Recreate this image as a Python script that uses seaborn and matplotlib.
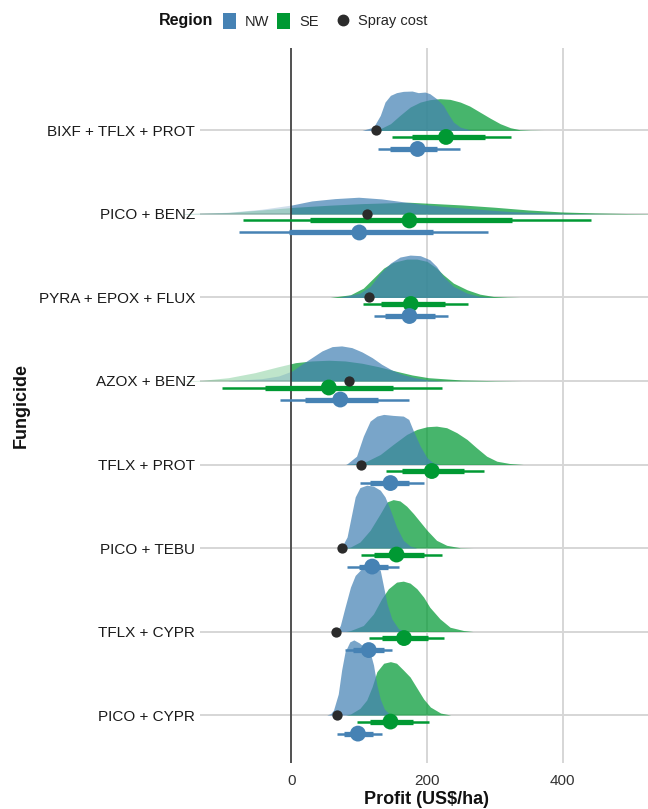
import matplotlib
matplotlib.use("Agg")
import matplotlib.pyplot as plt
import seaborn as sns
import pandas as pd
from matplotlib.patches import Patch, Rectangle
from matplotlib.lines import Line2D

# ---------------- data ----------------
FUNGICIDES = ["BIXF + TFLX + PROT", "PICO + BENZ", "PYRA + EPOX + FLUX", "AZOX + BENZ",
              "TFLX + PROT", "PICO + TEBU", "TFLX + CYPR", "PICO + CYPR"]
REGIONS = ["NW", "SE"]
X_TICKS = [0, 200, 400]

SPRAY_COST = [124, 112, 115, 85, 103, 74, 66, 67]

NW_MEDIAN = [186, 100, 174, 72, 146, 119, 114, 98]
NW_Q66 = [(146, 214), (-4, 209), (138, 212), (20, 128), (116, 173), (99, 143), (91, 136), (78, 120)]
NW_Q95 = [(128, 248), (-77, 290), (121, 231), (-17, 173), (101, 196), (82, 159), (79, 148), (67, 134)]

SE_MEDIAN = [228, 174, 176, 55, 207, 155, 166, 146]
SE_Q66 = [(178, 286), (28, 326), (132, 227), (-39, 150), (163, 254), (121, 195), (133, 202), (116, 179)]
SE_Q95 = [(148, 324), (-71, 442), (105, 261), (-103, 222), (140, 284), (103, 222), (115, 225), (96, 203)]

# posterior density (profit, relative density)
NW_DENSITY = [
    [(104, 0), (121, 3.3), (131, 15), (138, 28.3), (146, 35), (155, 37.7), (165, 39), (178, 39.3),
     (187, 37.7), (197, 38.3), (204, 36.7), (214, 31.7), (224, 25), (231, 16.7), (239, 8.3),
     (249, 3.3), (263, 0.7), (273, 0)],
    [(-160, 0.3), (-137, 0.7), (-93, 1.7), (-44, 4.7), (1, 9), (30, 13), (64, 15.3), (99, 16.7),
     (133, 15), (163, 12.3), (192, 9.7), (227, 7.3), (276, 4.7), (325, 2.3), (374, 1), (423, 0.3),
     (470, 0)],
    [(72, 0.3), (101, 4.3), (116, 11), (131, 24.3), (146, 34.3), (160, 40.3), (175, 42.3),
     (190, 41.7), (204, 37.7), (214, 31), (224, 21), (239, 11), (259, 4.3), (278, 1), (298, 0)],
    [(-93, 0.3), (-44, 2.3), (-19, 5), (1, 10), (15, 16.7), (30, 23.3), (45, 30), (60, 34.3),
     (74, 35), (89, 33.3), (104, 29), (119, 23.3), (133, 16.7), (148, 11), (163, 6.7), (182, 3.3),
     (202, 1), (227, 0)],
    [(80, 0), (82, 0.7), (96, 8.3), (106, 28.3), (116, 43.3), (126, 48.3), (136, 50), (150, 49),
     (165, 48.3), (173, 45), (180, 33.3), (190, 18.3), (200, 6.7), (209, 1.7), (219, 0)],
    [(72, 0), (74, 1), (82, 11), (89, 34.3), (94, 51), (101, 60.3), (111, 62.7), (121, 61.7),
     (131, 57.7), (138, 51), (146, 37.7), (155, 21), (165, 7.7), (175, 2), (185, 0)],
    [(67, 0), (72, 6), (79, 24.3), (87, 44.3), (94, 56), (104, 63), (116, 66), (126, 65),
     (131, 61), (136, 44.3), (141, 27.7), (148, 12.7), (158, 2.7), (170, 0)],
    [(52, 0), (58, 1.5), (62, 5), (69, 21), (74, 45), (79, 63), (86, 73), (92, 75), (100, 72),
     (110, 66), (117, 60), (121, 50), (126, 30), (131, 16), (137, 6), (143, 2), (150, 0)],
]
SE_DENSITY = [
    [(121, 0), (131, 1.7), (146, 6.7), (160, 15), (175, 23.3), (190, 28.3), (204, 30.7),
     (219, 31.7), (234, 31), (249, 28.3), (263, 24.3), (278, 18.3), (293, 12.3), (308, 6.7),
     (323, 2.7), (337, 0.7), (352, 0.2), (372, 0)],
    [(-160, 0.3), (-93, 1.5), (-44, 4), (6, 6.7), (55, 8.7), (104, 10.3), (173, 11.7), (202, 10.7),
     (251, 9), (300, 6.7), (349, 4), (399, 2), (448, 1), (497, 0.4), (560, 0)],
    [(57, 0), (87, 2.7), (106, 9.3), (121, 19.3), (136, 29.3), (150, 35), (170, 38.3), (185, 38.3),
     (200, 36), (214, 29.3), (224, 22.7), (239, 14.3), (259, 7.7), (278, 3.3), (298, 1),
     (318, 0.3), (337, 0)],
    [(-160, 0.2), (-132, 0.7), (-93, 3.3), (-54, 8.3), (-19, 14.3), (6, 18.3), (30, 20), (55, 20.7),
     (79, 20), (104, 17.7), (128, 14.3), (153, 10), (178, 6), (202, 3.3), (251, 1), (300, 0.3),
     (340, 0)],
    [(80, 0), (91, 0.7), (111, 3.3), (131, 10), (150, 20), (170, 30), (185, 35), (200, 37.7),
     (214, 38.3), (229, 36.7), (244, 31.7), (259, 25), (273, 16.7), (288, 8.3), (303, 3.3),
     (322, 1), (342, 0)],
    [(80, 0), (87, 1), (101, 6), (116, 17.7), (131, 34.3), (141, 46), (150, 48.3), (160, 47),
     (170, 41.7), (180, 34.3), (190, 26), (200, 17.7), (214, 7.7), (229, 2.7), (249, 0.3), (268, 0)],
    [(80, 0), (87, 1), (106, 6), (121, 17.7), (133, 32.7), (143, 42.7), (155, 49.3), (165, 50.3),
     (175, 48.3), (185, 42.7), (195, 34.3), (204, 24.3), (219, 12.7), (234, 4.3), (254, 1), (268, 0)],
    [(80, 0), (87, 1), (101, 6.7), (111, 15), (119, 28.3), (126, 43.3), (136, 51.7), (146, 53.3),
     (155, 51.7), (165, 45), (175, 38), (185, 27), (195, 16), (205, 8), (220, 2), (235, 0)],
]

# ---------------- style ----------------
sns.set_theme(style="white")
plt.rcParams["font.family"] = ["Liberation Sans", "DejaVu Sans"]

COLORS = {"NW": "#4682B4", "SE": "#009933"}
GRID = "#d6d6d6"
W, H = 648, 809

fig = plt.figure(figsize=(W / 100, H / 100), dpi=100)
ax = fig.add_axes([200 / W, 1 - 763 / H, 448 / W, 715 / H])

n = len(FUNGICIDES)
ypos = {f: n - i for i, f in enumerate(FUNGICIDES)}
XLIM = (-135, 526)

for xv in X_TICKS:
    ax.axvline(xv, color=GRID, lw=1.4, zorder=0)
for f in FUNGICIDES:
    ax.axhline(ypos[f], color=GRID, lw=1.4, zorder=0)

hmax = max(h for d in NW_DENSITY + SE_DENSITY for _, h in d)
scale = 0.9 / hmax

for i, f in enumerate(FUNGICIDES):
    y0 = ypos[f]
    for region, dens in (("SE", SE_DENSITY[i]), ("NW", NW_DENSITY[i])):
        xs = [p[0] for p in dens]
        top = [y0 + p[1] * scale for p in dens]
        for alpha, clip in ((0.72, Rectangle((0, -5), 2000, 50)),
                            (0.25, Rectangle((-2000, -5), 2000, 50))):
            coll = ax.fill_between(xs, y0, top, color=COLORS[region], alpha=alpha,
                                   lw=0, zorder=2)
            clip.set_transform(ax.transData)
            coll.set_clip_path(clip)

ax.axvline(0, color="#2e2e2e", lw=1.1, zorder=3)

OFFSET = {"SE": -0.078, "NW": -0.222}
rows = []
for region, med, q66, q95 in (("SE", SE_MEDIAN, SE_Q66, SE_Q95),
                              ("NW", NW_MEDIAN, NW_Q66, NW_Q95)):
    for i, f in enumerate(FUNGICIDES):
        y = ypos[f] + OFFSET[region]
        ax.plot(q95[i], [y, y], color=COLORS[region], lw=1.8, solid_capstyle="butt", zorder=4)
        ax.plot(q66[i], [y, y], color=COLORS[region], lw=3.8, solid_capstyle="butt", zorder=4)
        rows.append({"region": region, "profit": med[i], "y": y})

med_df = pd.DataFrame(rows)
sns.scatterplot(data=med_df, x="profit", y="y", hue="region", palette=COLORS, s=130,
                linewidth=0, legend=False, ax=ax, zorder=5)

cost_df = pd.DataFrame({"cost": SPRAY_COST, "y": [ypos[f] for f in FUNGICIDES]})
sns.scatterplot(data=cost_df, x="cost", y="y", color="#2b2b2b", s=55, linewidth=0,
                legend=False, ax=ax, zorder=6)

ax.set_xlim(*XLIM)
ax.set_ylim(0.426, 8.987)
ax.set_xticks(X_TICKS)
ax.set_xticklabels([str(v) for v in X_TICKS])
ax.set_yticks([ypos[f] for f in FUNGICIDES])
ax.set_yticklabels(FUNGICIDES)
ax.tick_params(axis="x", length=0, pad=8, labelsize=11, labelcolor="#333333")
ax.tick_params(axis="y", length=0, pad=3.6, labelsize=11, labelcolor="#1a1a1a")
ax.set_xlabel("")
ax.set_ylabel("")
for s in ax.spines.values():
    s.set_visible(False)
ax.grid(False)

fig.text(426 / W, 1 - 800 / H, r"Profit (US\$/ha)", ha="center", va="center",
         fontsize=13, fontweight="bold", color="#111111")
fig.text(21 / W, 1 - 405 / H, "Fungicide", ha="center", va="center", rotation=90,
         fontsize=13, fontweight="bold", color="#111111")

# legend
fig.text(213 / W, 1 - 21 / H, "Region", ha="right", va="center", fontsize=11.5,
         fontweight="bold", color="#111111")
h1 = [Patch(facecolor=COLORS[r], edgecolor="none") for r in REGIONS]
fig.legend(h1, REGIONS, loc="center left", bbox_to_anchor=(223 / W, 1 - 21 / H), ncol=2,
           frameon=False, fontsize=10.5, handlelength=0.9, handleheight=1.25,
           handletextpad=0.6, columnspacing=0.55, borderpad=0, borderaxespad=0)
h2 = [Line2D([], [], marker="o", ls="", color="#2b2b2b", markersize=7.5)]
fig.legend(h2, ["Spray cost"], loc="center left", bbox_to_anchor=(336.5 / W, 1 - 21 / H),
           frameon=False, fontsize=10.5, handlelength=0.9, handletextpad=0.55,
           borderpad=0, borderaxespad=0)

fig.savefig("out.png", dpi=100)
